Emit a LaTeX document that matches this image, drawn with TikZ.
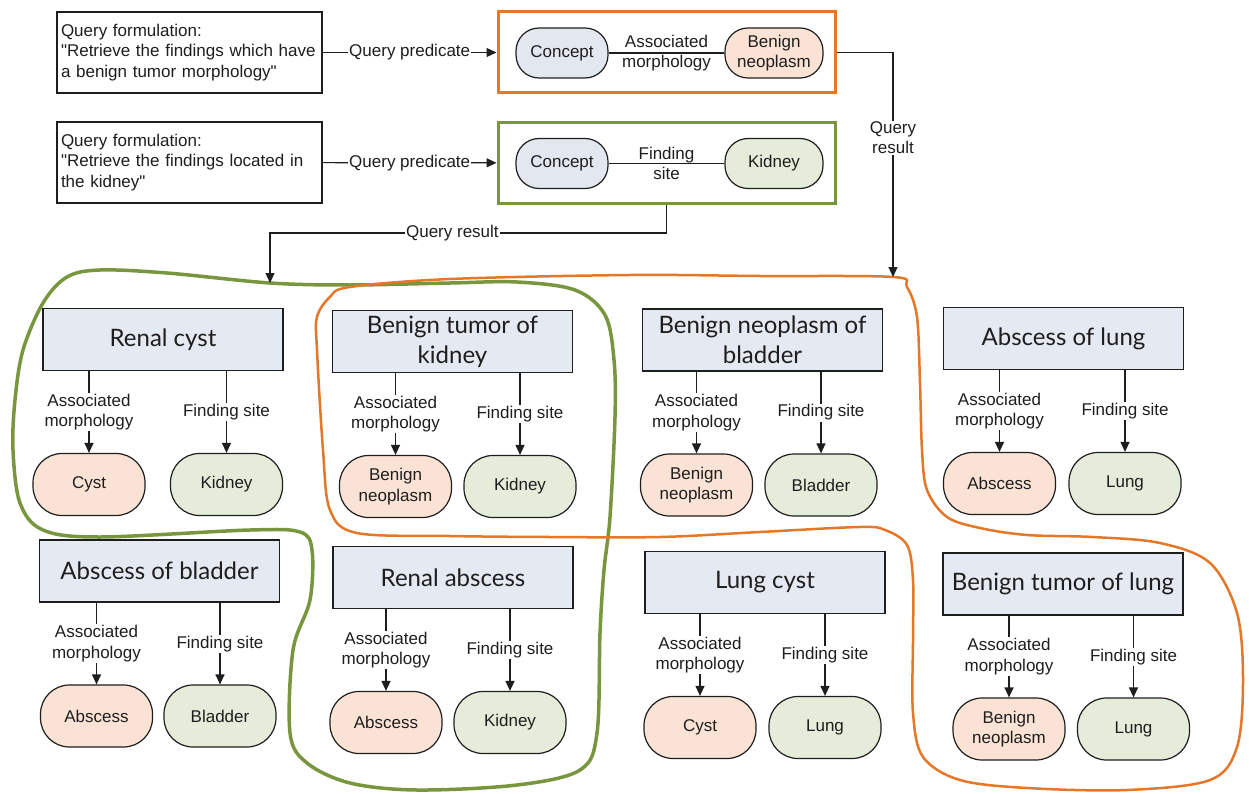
\documentclass[tikz,border=0pt]{standalone}
\usepackage{fontspec}
\setmainfont{Liberation Sans}
\newfontfamily\titlefont{Lato}
\usetikzlibrary{arrows.meta}

\definecolor{titlefill}{RGB}{229,233,242}
\definecolor{conceptfill}{RGB}{226,231,240}
\definecolor{morphfill}{RGB}{250,227,212}
\definecolor{sitefill}{RGB}{229,236,218}
\definecolor{setorange}{RGB}{228,120,40}
\definecolor{setgreen}{RGB}{120,150,62}
\definecolor{ink}{RGB}{30,30,30}

\tikzset{
  smalltext/.style={font=\fontsize{17}{20.5}\selectfont, text=ink},
  conn/.style={draw=ink, line width=1.2pt},
  arr/.style={conn, -{Triangle[length=10pt,width=9pt]}},
  querybox/.style={draw=ink, line width=1.8pt, text width=257pt, inner xsep=4pt,
    minimum height=81pt, align=left, smalltext},
  predbox/.style={line width=3pt, minimum width=337pt, minimum height=81pt},
  titlebox/.style={draw=ink, line width=1.6pt, fill=titlefill, minimum width=240pt,
    minimum height=62pt, align=center, text=ink, font=\titlefont\fontsize{24}{30}\selectfont},
  valnode/.style={draw=ink, line width=1.2pt, rounded corners=29pt, minimum width=112pt,
    minimum height=62pt, align=center, smalltext},
  morphnode/.style={valnode, fill=morphfill},
  sitenode/.style={valnode, fill=sitefill},
  conceptnode/.style={valnode, fill=conceptfill, minimum width=92pt, minimum height=50pt,
    rounded corners=23pt},
  lbl/.style={fill=white, inner sep=1pt, align=center, smalltext},
  rellbl/.style={inner sep=0pt, align=center, smalltext},
  setline/.style={line width=#1, line join=round}
}

\newcommand{\findingcard}[7]{%
  \node[titlebox] (#1) at (#2) {#3};
  \node[morphnode] (#1-morph) at ([shift={(#4,145)}]#1.center) {#6};
  \node[sitenode] (#1-site) at ([shift={(#5,145)}]#1.center) {#7};
  \draw[arr] (#1-morph.north |- #1.south) -- node[lbl]{Associated\\morphology} (#1-morph);
  \draw[arr] (#1-site.north |- #1.south) -- node[lbl]{Finding site} (#1-site);
}

\begin{document}
\begin{tikzpicture}[x=1pt, y=-1pt]
\useasboundingbox[fill=white] (0,0) rectangle (1249,794);

\coordinate (kidneyset) at (270,283);
\coordinate (benignset) at (893,277);

\draw[setline=3.5pt, draw=setgreen] plot[smooth cycle, tension=0.55] coordinates {
  (270,283) (350,285) (450,283) (517,282) (575,290) (605,315) (614,360) (615,417)
  (610,517) (604,570) (600,633) (597,733) (580,770) (517,785) (417,790) (350,783)
  (307,763) (290,733) (293,650) (310,600) (312,550) (300,532) (250,530) (100,537)
  (43,530) (20,503) (13,450) (15,400) (23,350) (43,303) (67,277) (100,270) (167,273)};
\draw[setline=2.5pt, draw=setorange] plot[smooth cycle, tension=0.55] coordinates {
  (330,297) (350,287) (450,279) (630,275) (760,276) (893,277) (907,287) (917,317)
  (920,383) (922,450) (927,490) (947,517) (980,528) (1027,535) (1093,537) (1160,543)
  (1210,563) (1237,613) (1243,680) (1237,747) (1210,780) (1127,790) (1027,788)
  (960,780) (923,757) (913,713) (913,640) (913,580) (907,545) (885,530) (860,527)
  (760,532) (660,537) (550,537) (450,536) (357,533) (330,510) (323,450) (317,350)
  (317,317)};

\node[querybox] (morphquery) at (189.5,52.5) {Query formulation:\\\textquotedbl Retrieve the findings which have\\a benign tumor morphology\textquotedbl};
\node[predbox, draw=setorange] (morphpred) at (666.5,52.5) {};
\node[conceptnode] (morphconcept) at (562,53) {Concept};
\node[conceptnode, fill=morphfill, minimum width=98pt] (morphvalue) at (774,53) {Benign\\neoplasm};
\draw[conn] (morphconcept) -- node[rellbl]{Associated\\morphology} (morphvalue);
\draw[arr] (morphquery) -- node[lbl]{Query predicate} (morphpred);

\node[querybox] (sitequery) at (189.5,162.5) {Query formulation:\\\textquotedbl Retrieve the findings located in\\the kidney\textquotedbl};
\node[predbox, draw=setgreen] (sitepred) at (666.5,163) {};
\node[conceptnode] (siteconcept) at (562,163.5) {Concept};
\node[conceptnode, fill=sitefill, minimum width=98pt] (sitevalue) at (774,163.5) {Kidney};
\draw[conn] (siteconcept) -- node[rellbl]{Finding\\site} (sitevalue);
\draw[arr] (sitequery) -- node[lbl]{Query predicate} (sitepred);

\draw[arr] (morphpred.east) -| node[lbl, pos=0.69]{Query\\result} (benignset);
\draw[arr] (sitepred.south) -- ++(0,28) -| node[lbl, pos=0.27]{Query result} (kidneyset);

\findingcard{renalcyst}{163,339.5}{Renal cyst}{-74}{63.5}{Cyst}{Kidney}
\findingcard{tumorkidney}{452.5,341.5}{Benign tumor of\\kidney}{-57}{67.5}{Benign\\neoplasm}{Kidney}
\findingcard{neoplasmbladder}{762.5,340}{Benign neoplasm of\\bladder}{-66}{58.5}{Benign\\neoplasm}{Bladder}
\findingcard{abscesslung}{1063.5,338.5}{Abscess of lung}{-64}{61.5}{Abscess}{Lung}
\findingcard{abscessbladder}{159.5,571}{Abscess of bladder}{-63}{60.5}{Abscess}{Bladder}
\findingcard{renalabscess}{453,577.5}{Renal abscess}{-67}{57}{Abscess}{Kidney}
\findingcard{lungcyst}{765,582.5}{Lung cyst}{-65}{60}{Cyst}{Lung}
\findingcard{tumorlung}{1063,584}{Benign tumor of lung}{-54}{70.5}{Benign\\neoplasm}{Lung}
\end{tikzpicture}
\end{document}
